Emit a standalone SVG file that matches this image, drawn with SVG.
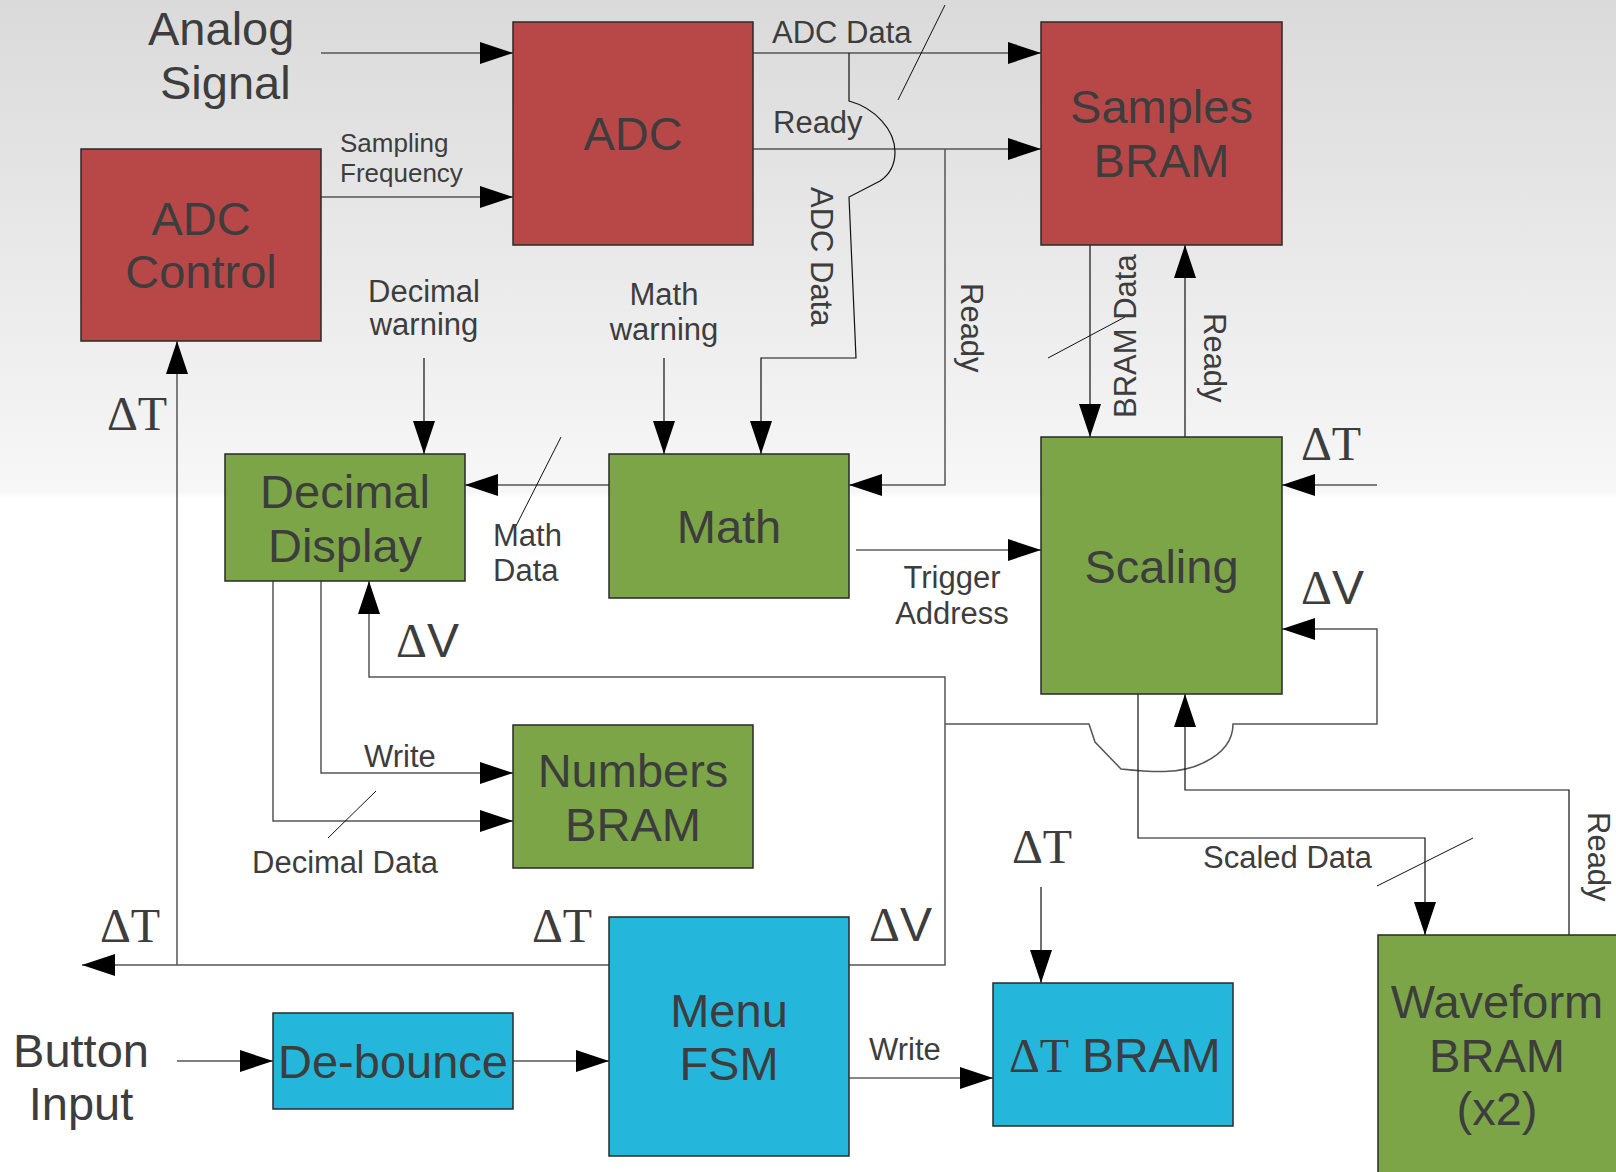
<svg xmlns="http://www.w3.org/2000/svg" width="1616" height="1172" viewBox="0 0 1616 1172">
<defs>
<linearGradient id="bg" x1="0" y1="0" x2="0" y2="1172" gradientUnits="userSpaceOnUse">
<stop offset="0" stop-color="#dadada"/>
<stop offset="0.42" stop-color="#f7f7f7"/>
<stop offset="0.425" stop-color="#ffffff"/>
<stop offset="1" stop-color="#ffffff"/>
</linearGradient>
<marker id="ah" markerUnits="userSpaceOnUse" markerWidth="34" markerHeight="22" refX="33" refY="11" orient="auto">
<path d="M0,0 L33,11 L0,22 Z" fill="#000"/>
</marker>
<style>
.box{stroke:#2a2a2a;stroke-width:1.5}
.red{fill:#b84848}
.grn{fill:#7ba547}
.blu{fill:#25b6dc}
.big{font-family:"Liberation Sans",Arial,sans-serif;font-size:47px;fill:#3d3d3d;text-anchor:middle}
.lbl{font-family:"Liberation Sans",Arial,sans-serif;font-size:31px;fill:#3d3d3d}
.sm{font-family:"Liberation Sans",Arial,sans-serif;font-size:26px;fill:#3d3d3d}
.dl{font-family:"Liberation Serif","Times New Roman",serif;font-size:48px;fill:#3d3d3d}
.sans{font-family:"Liberation Sans",Arial,sans-serif}
.ln{fill:none;stroke:#555;stroke-width:1.5}
.ar{marker-end:url(#ah)}
.sl{fill:none;stroke:#111;stroke-width:1}
</style>
</defs>
<rect x="0" y="0" width="1616" height="1172" fill="url(#bg)"/>

<g id="connectors">
<path class="ln ar" d="M321,53 H513"/>
<path class="ln ar" d="M321,197 H513"/>
<path class="ln ar" d="M753,53 H1041"/>
<path class="ln ar" d="M753,149 H1041"/>
<path class="sl" d="M945,5 L898,100"/>
<path class="ln ar" style="stroke:#111;stroke-width:1.2" d="M849,53 V101 C875,108 895,130 895,152 C895,166 889,175 880,181 L849,197 L856,358 H761 V454"/>
<path class="ln ar" style="stroke:#111;stroke-width:1.2" d="M664,358 V454"/>
<path class="ln ar" style="stroke:#111;stroke-width:1.2" d="M424,358 V454"/>
<path class="ln ar" d="M945,149 V485 H849"/>
<path class="ln ar" d="M609,485 H465"/>
<path class="sl" d="M561,437 L516,526"/>
<path class="ln ar" style="stroke:#111;stroke-width:1.2" d="M856,550 H1041"/>
<path class="ln ar" style="stroke:#111;stroke-width:1.2" d="M1090,245 V437"/>
<path class="sl" d="M1048,358 L1125,317"/>
<path class="ln ar" style="stroke:#111;stroke-width:1.2" d="M1185,437 V245"/>
<path class="ln ar" d="M1377,485 H1282"/>
<path class="ln ar" d="M849,965 H945 V677 H369 V581"/>
<path class="ln ar" d="M945,724 H1089 L1095,742 L1121,769 C1150,772 1180,775 1205,762 C1225,752 1233,738 1233,724 H1377 V629 H1282"/>
<path class="ln ar" d="M609,965 H82"/>
<path class="ln ar" d="M177,965 V341"/>
<path class="ln ar" d="M177,1061 H273"/>
<path class="ln ar" d="M513,1061 H609"/>
<path class="ln ar" style="stroke:#111;stroke-width:1.2" d="M849,1078 H993"/>
<path class="ln ar" style="stroke:#111;stroke-width:1.2" d="M1041,887 V983"/>
<path class="ln ar" style="stroke:#111;stroke-width:1.2" d="M1138,694 V838 H1425 V935"/>
<path class="sl" d="M1377,886 L1473,838"/>
<path class="ln ar" style="stroke:#111;stroke-width:1.2" d="M1569,935 V790 H1185 V694"/>
<path class="ln ar" d="M321,581 V773 H513"/>
<path class="ln ar" d="M273,581 V821 H513"/>
<path class="sl" d="M328,838 L376,791"/>
</g>

<g id="adc">
<rect class="box red" x="513" y="22" width="240" height="223"/>
<text class="big" x="633" y="150">ADC</text>
</g>
<g id="adc-control">
<rect class="box red" x="81" y="149" width="240" height="192"/>
<text class="big" x="201" y="235">ADC</text>
<text class="big" x="201" y="288">Control</text>
</g>
<g id="samples-bram">
<rect class="box red" x="1041" y="22" width="241" height="223"/>
<text class="big" x="1161.5" y="123">Samples</text>
<text class="big" x="1161.5" y="177">BRAM</text>
</g>
<g id="decimal-display">
<rect class="box grn" x="225" y="454" width="240" height="127"/>
<text class="big" x="345" y="508">Decimal</text>
<text class="big" x="345" y="562">Display</text>
</g>
<g id="math">
<rect class="box grn" x="609" y="454" width="240" height="144"/>
<text class="big" x="729" y="543">Math</text>
</g>
<g id="scaling">
<rect class="box grn" x="1041" y="437" width="241" height="257"/>
<text class="big" x="1161.5" y="583">Scaling</text>
</g>
<g id="numbers-bram">
<rect class="box grn" x="513" y="725" width="240" height="143"/>
<text class="big" x="633" y="787">Numbers</text>
<text class="big" x="633" y="841">BRAM</text>
</g>
<g id="menu-fsm">
<rect class="box blu" x="609" y="917" width="240" height="239"/>
<text class="big" x="729" y="1027">Menu</text>
<text class="big" x="729" y="1080">FSM</text>
</g>
<g id="de-bounce">
<rect class="box blu" x="273" y="1013" width="240" height="96"/>
<text class="big" x="393" y="1078">De-bounce</text>
</g>
<g id="dt-bram">
<rect class="box blu" x="993" y="983" width="240" height="143"/>
<text class="dl" x="1009" y="1072">ΔT<tspan class="sans" x="1082">BRAM</tspan></text>
</g>
<g id="waveform-bram">
<rect class="box grn" x="1378" y="935" width="240" height="240"/>
<text class="big" x="1497" y="1018">Waveform</text>
<text class="big" x="1497" y="1072">BRAM</text>
<text class="big" x="1497" y="1125">(x2)</text>
</g>

<g id="labels">
<text class="big" style="text-anchor:start" x="148" y="45">Analog</text>
<text class="big" style="text-anchor:start" x="160" y="99">Signal</text>
<text class="big" x="81" y="1067">Button</text>
<text class="big" x="81" y="1120">Input</text>
<text class="sm" x="340" y="152">Sampling</text>
<text class="sm" x="340" y="182">Frequency</text>
<text class="lbl" style="text-anchor:middle" x="424" y="302">Decimal</text>
<text class="lbl" style="text-anchor:middle" x="424" y="335">warning</text>
<text class="lbl" style="text-anchor:middle" x="664" y="305">Math</text>
<text class="lbl" style="text-anchor:middle" x="664" y="340">warning</text>
<text class="lbl" x="772" y="43">ADC Data</text>
<text class="lbl" x="773" y="133">Ready</text>
<text class="lbl" transform="translate(811,187) rotate(90)">ADC Data</text>
<text class="lbl" transform="translate(961,283) rotate(90)">Ready</text>
<text class="lbl" transform="translate(1136,418) rotate(-90)">BRAM Data</text>
<text class="lbl" transform="translate(1204,313) rotate(90)">Ready</text>
<text class="lbl" transform="translate(1588,812) rotate(90)">Ready</text>
<text class="lbl" x="493" y="546">Math</text>
<text class="lbl" x="493" y="581">Data</text>
<text class="lbl" style="text-anchor:middle" x="952" y="588">Trigger</text>
<text class="lbl" style="text-anchor:middle" x="952" y="624">Address</text>
<text class="lbl" x="364" y="767">Write</text>
<text class="lbl" x="252" y="873">Decimal Data</text>
<text class="lbl" x="869" y="1060">Write</text>
<text class="lbl" x="1203" y="868">Scaled Data</text>
<text class="dl" x="107" y="430">ΔT</text>
<text class="dl" x="100" y="942">ΔT</text>
<text class="dl" x="532" y="942">ΔT</text>
<text class="dl" x="1012" y="863">ΔT</text>
<text class="dl" x="1301" y="460">ΔT</text>
<text class="dl" x="396" y="657">Δ<tspan class="sans">V</tspan></text>
<text class="dl" x="869" y="941">Δ<tspan class="sans">V</tspan></text>
<text class="dl" x="1301" y="604">Δ<tspan class="sans">V</tspan></text>
</g>
</svg>
